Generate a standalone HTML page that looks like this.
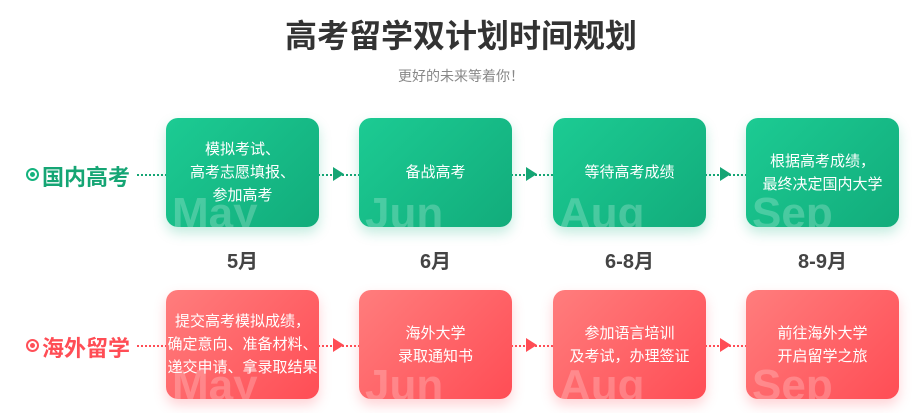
<!DOCTYPE html>
<html><head><meta charset="utf-8"><style>
*{margin:0;padding:0;box-sizing:border-box}
body{width:922px;height:413px;background:#fff;position:relative;overflow:hidden;font-family:"Liberation Sans","Noto Sans CJK SC",sans-serif}
.a{position:absolute}
.title{left:0;width:922px;top:11px;text-align:center;font-size:32px;font-weight:bold;color:#333}
.sub{left:0;width:922px;top:66px;text-align:center;font-size:14px;color:#888}
.box{position:absolute;width:153px;height:109px;border-radius:12px;color:#fff;font-size:15px;line-height:23px;display:flex;align-items:center;justify-content:center;text-align:center;overflow:hidden}
.g{background:linear-gradient(135deg,#1ccb93,#12ac7b);box-shadow:0 6px 12px rgba(20,180,130,.25)}
.r{background:linear-gradient(135deg,#ff7d7d,#ff4d55);box-shadow:0 6px 12px rgba(255,80,90,.25)}
.box .m{position:absolute;left:6px;bottom:-10px;font-size:44px;font-weight:bold;color:rgba(255,255,255,.22);line-height:46px}
.box .t{position:relative}
.mon{position:absolute;width:153px;top:245px;text-align:center;font-size:20px;font-weight:bold;color:#444}
.lab{position:absolute;font-size:22px;font-weight:bold}
.dot{position:absolute;height:0;border-top:2px dotted}
.tri{position:absolute;width:0;height:0;border-top:7px solid transparent;border-bottom:7px solid transparent;border-left:11px solid}
.circ{position:absolute;width:13px;height:13px;border-radius:50%;border:2px solid}
.circ:after{content:"";position:absolute;left:2px;top:2px;width:5px;height:5px;border-radius:50%;background:currentColor}
</style></head><body>
<div class="a title">高考留学双计划时间规划</div>
<div class="a sub">更好的未来等着你！</div>

<div class="circ" style="left:26px;top:168px;color:#15b37e;border-color:#15b37e"></div>
<div class="lab" style="left:42px;top:160px;color:#15a574">国内高考</div>
<div class="dot" style="left:137px;top:174px;width:30px;border-color:#15a574"></div>
<div class="dot" style="left:318px;top:174px;width:42px;border-color:#15a574"></div>
<div class="tri" style="left:333px;top:167px;border-left-color:#15a574"></div>
<div class="dot" style="left:511px;top:174px;width:42px;border-color:#15a574"></div>
<div class="tri" style="left:526px;top:167px;border-left-color:#15a574"></div>
<div class="dot" style="left:705px;top:174px;width:42px;border-color:#15a574"></div>
<div class="tri" style="left:720px;top:167px;border-left-color:#15a574"></div>

<div class="box g" style="left:166px;top:118px"><span class="m">May</span><span class="t">模拟考试、<br>高考志愿填报、<br>参加高考</span></div>
<div class="box g" style="left:359px;top:118px"><span class="m">Jun</span><span class="t">备战高考</span></div>
<div class="box g" style="left:553px;top:118px"><span class="m">Aug</span><span class="t">等待高考成绩</span></div>
<div class="box g" style="left:746px;top:118px"><span class="m">Sep</span><span class="t">根据高考成绩，<br>最终决定国内大学</span></div>

<div class="mon" style="left:166px">5月</div>
<div class="mon" style="left:359px">6月</div>
<div class="mon" style="left:553px">6-8月</div>
<div class="mon" style="left:746px">8-9月</div>

<div class="circ" style="left:26px;top:339px;color:#ff5058;border-color:#ff5058"></div>
<div class="lab" style="left:42px;top:331px;color:#ff4d55">海外留学</div>
<div class="dot" style="left:137px;top:345px;width:30px;border-color:#ff4d55"></div>
<div class="dot" style="left:318px;top:345px;width:42px;border-color:#ff4d55"></div>
<div class="tri" style="left:333px;top:338px;border-left-color:#ff4d55"></div>
<div class="dot" style="left:511px;top:345px;width:42px;border-color:#ff4d55"></div>
<div class="tri" style="left:526px;top:338px;border-left-color:#ff4d55"></div>
<div class="dot" style="left:705px;top:345px;width:42px;border-color:#ff4d55"></div>
<div class="tri" style="left:720px;top:338px;border-left-color:#ff4d55"></div>

<div class="box r" style="left:166px;top:290px"><span class="m">May</span><span class="t">提交高考模拟成绩，<br>确定意向、准备材料、<br>递交申请、拿录取结果</span></div>
<div class="box r" style="left:359px;top:290px"><span class="m">Jun</span><span class="t">海外大学<br>录取通知书</span></div>
<div class="box r" style="left:553px;top:290px"><span class="m">Aug</span><span class="t">参加语言培训<br>及考试，办理签证</span></div>
<div class="box r" style="left:746px;top:290px"><span class="m">Sep</span><span class="t">前往海外大学<br>开启留学之旅</span></div>
</body></html>
